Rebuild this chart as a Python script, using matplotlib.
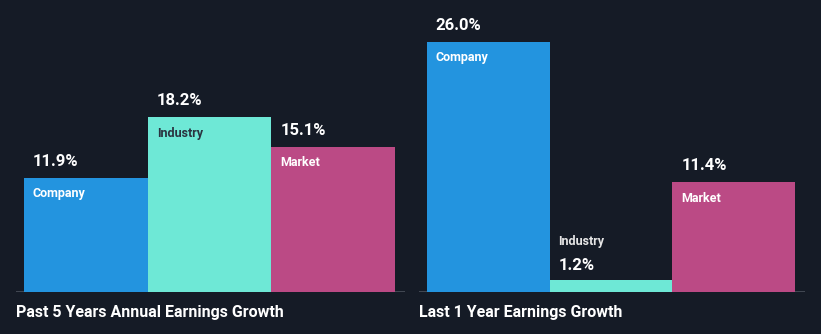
import matplotlib.pyplot as plt

# Earnings growth, percent
groups = ["Past 5 Years Annual Earnings Growth", "Last 1 Year Earnings Growth"]
series = ["Company", "Industry", "Market"]
growth_5y = [11.9, 18.2, 15.1]
growth_1y = [26.0, 1.2, 11.4]

BG = "#151b26"
COLORS = {"Company": "#2394df", "Industry": "#6ee8d6", "Market": "#bb4a85"}
LABEL_COLORS = {"Company": "#ffffff", "Industry": "#2a3340", "Market": "#ffffff"}

plt.rcParams["font.family"] = ["Roboto", "DejaVu Sans"]

W, H = 821, 334
fig = plt.figure(figsize=(W / 100, H / 100), dpi=100)
fig.patch.set_facecolor(BG)

BAR_PX = 123.7
BASE_Y = 292           # baseline, pixels from top
PX_PER_PCT = 250 / 26.0
ymax = BASE_Y / PX_PER_PCT


def panel(left_px, right_px, values, title):
    ax = fig.add_axes([left_px / W, (H - BASE_Y) / H,
                       (right_px - left_px) / W, BASE_Y / H])
    ax.set_facecolor(BG)
    ax.set_xlim(-0.5 - 8 / BAR_PX, 2.5 + 10 / BAR_PX)
    ax.set_ylim(0, ymax)
    ax.axis("off")
    ax.axhline(0, color="#4b515b", lw=1.2, zorder=1)

    xs = range(len(values))
    ax.bar(xs, values, width=1.0, color=[COLORS[s] for s in series],
           edgecolor="none", zorder=2)

    pct = 1 / PX_PER_PCT
    for x, v, name in zip(xs, values, series):
        lx = x - 0.5 + 9 / BAR_PX
        if v * PX_PER_PCT > 40:
            ax.text(lx, v + 9 * pct, f"{v:.1f}%", color="white",
                    fontsize=12, fontweight="bold", ha="left", va="bottom", zorder=3)
            ax.text(lx, v - 16 * pct, name, color=LABEL_COLORS[name],
                    fontsize=9, fontweight="bold", ha="left", va="center", zorder=3)
        else:
            ax.text(lx, v + 7 * pct, f"{v:.1f}%", color="white",
                    fontsize=12, fontweight="bold", ha="left", va="bottom", zorder=3)
            ax.text(lx, v + 39 * pct, name, color="#e6e6e6",
                    fontsize=9, fontweight="bold", ha="left", va="center", zorder=3)

    fig.text(left_px / W, 1 - 312 / H, title, color="white",
             fontsize=11.5, fontweight="bold", ha="left", va="center")


panel(16, 405, growth_5y, groups[0])
panel(419, 805, growth_1y, groups[1])

fig.savefig("out.png", dpi=100, facecolor=BG)
